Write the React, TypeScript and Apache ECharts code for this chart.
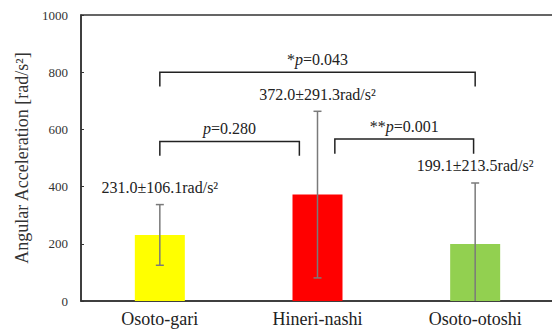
import React, { useEffect, useRef } from "react";
import * as echarts from "echarts";

const categories = ["Osoto-gari", "Hineri-nashi", "Osoto-otoshi"];
const means = [231.0, 372.0, 199.1];
const sds = [106.1, 291.3, 213.5];
const barColors = ["#FFFF00", "#FF0000", "#92D050"];
const yMin = 0;
const yMax = 1000;
const yInterval = 200;
const yTitle = "Angular Acceleration [rad/s²]";

// significance brackets between categories (values in data units)
const bracketFrom = [0, 0, 1];
const bracketTo = [2, 1, 2];
const bracketLevel = [800, 558, 566];
const bracketLeg = [750, 508, 515];
const bracketStars = ["*", "", "**"];
const bracketP = ["0.043", "0.280", "0.001"];

const FONT = "Liberation Serif, Times New Roman, serif";

export default function App() {
  const ref = useRef<HTMLDivElement>(null);
  useEffect(() => {
    if (!ref.current) return;
    const chart = echarts.init(ref.current, null, { renderer: "svg" });
    const fromOff = [0, 0, 0.11];
    const toOff = [0, -0.115, -0.01];
    chart.setOption({
      animation: false,
      backgroundColor: "#fff",
      grid: {
        left: 81,
        right: -2,
        top: 15,
        bottom: 31,
        show: true,
        borderColor: "#333",
        borderWidth: 1.5,
        backgroundColor: "transparent",
        outerBoundsMode: "none",
      },
      xAxis: {
        type: "category",
        data: categories,
        axisLine: { lineStyle: { color: "#333", width: 1.5 } },
        axisTick: { show: false },
        axisLabel: { fontFamily: FONT, fontSize: 18, color: "#222", margin: 9 },
      },
      yAxis: {
        type: "value",
        min: yMin,
        max: yMax,
        interval: yInterval,
        axisLine: { show: true, lineStyle: { color: "#333", width: 1.5 } },
        axisTick: { show: true, inside: true, length: 3, lineStyle: { color: "#333" } },
        splitLine: { show: false },
        axisLabel: {
          fontFamily: FONT,
          fontSize: 13,
          color: "#333",
          margin: 13,
          formatter: (v: number) => String(v),
        },
        name: yTitle,
        nameLocation: "middle",
        nameRotate: 90,
        nameGap: 37,
        nameTextStyle: { fontFamily: FONT, fontSize: 18, color: "#333" },
      },
      series: [
        {
          type: "bar",
          barWidth: 50,
          data: means.map((v, i) => ({ value: v, itemStyle: { color: barColors[i] } })),
          z: 2,
        },
        {
          type: "custom",
          z: 5,
          data: means.map((m, i) => [i, m, sds[i]]),
          encode: { x: 0, y: 1 },
          renderItem: (params: any, api: any) => {
            const i = api.value(0);
            const m = api.value(1);
            const sd = api.value(2);
            const lo = Math.max(yMin, m - sd);
            const hi = m + sd;
            const pHi = api.coord([i, hi]);
            const pLo = api.coord([i, lo]);
            const cap = 4;
            const st = { stroke: "#7a7a7a", lineWidth: 1.5 };
            const children: any[] = [
              { type: "line", shape: { x1: pHi[0], y1: pHi[1], x2: pLo[0], y2: pLo[1] }, style: st },
              { type: "line", shape: { x1: pHi[0] - cap, y1: pHi[1], x2: pHi[0] + cap, y2: pHi[1] }, style: st },
            ];
            if (m - sd > yMin) {
              children.push({ type: "line", shape: { x1: pLo[0] - cap, y1: pLo[1], x2: pLo[0] + cap, y2: pLo[1] }, style: st });
            }
            children.push({
              type: "text",
              x: pHi[0],
              y: pHi[1] - 17,
              style: {
                text: `${m.toFixed(1)}±${sd.toFixed(1)}rad/s²`,
                fill: "#222",
                fontFamily: FONT,
                fontSize: 16,
                align: "center",
                verticalAlign: "middle",
              },
            });
            return { type: "group", children };
          },
        },
        {
          type: "custom",
          z: 6,
          data: bracketFrom.map((f, i) => [f, bracketLevel[i], bracketTo[i], bracketLeg[i], i]),
          encode: { x: 0, y: 1 },
          renderItem: (params: any, api: any) => {
            const k = api.value(4);
            const band = api.size([1, 0])[0];
            const a = api.coord([api.value(0), api.value(1)]);
            const b = api.coord([api.value(2), api.value(1)]);
            const legY = api.coord([api.value(0), api.value(3)])[1];
            const x1 = a[0] + fromOff[k] * band;
            const x2 = b[0] + toOff[k] * band;
            const y = a[1];
            const st = { stroke: "#222", lineWidth: 1.5, fill: null };
            const stars = bracketStars[k];
            const txt = (stars ? `{n|${stars}}` : "") + `{i|p}{n|=${bracketP[k]}}`;
            return {
              type: "group",
              children: [
                {
                  type: "polyline",
                  shape: { points: [[x1, legY], [x1, y], [x2, y], [x2, legY]] },
                  style: st,
                },
                {
                  type: "text",
                  x: (x1 + x2) / 2,
                  y: y - 13,
                  style: {
                    text: txt,
                    align: "center",
                    verticalAlign: "middle",
                    fill: "#222",
                    fontFamily: FONT,
                    fontSize: 16,
                    rich: {
                      n: { fontFamily: FONT, fontSize: 16, fill: "#222", color: "#222" },
                      i: { fontFamily: FONT, fontSize: 16, fontStyle: "italic", fill: "#222", color: "#222" },
                    },
                  },
                },
              ],
            };
          },
        },
      ],
    });
    return () => chart.dispose();
  }, []);
  return (
    <div
      ref={ref}
      style={{ position: "fixed", left: 0, top: 0, width: 552, height: 332, background: "#fff" }}
    />
  );
}
